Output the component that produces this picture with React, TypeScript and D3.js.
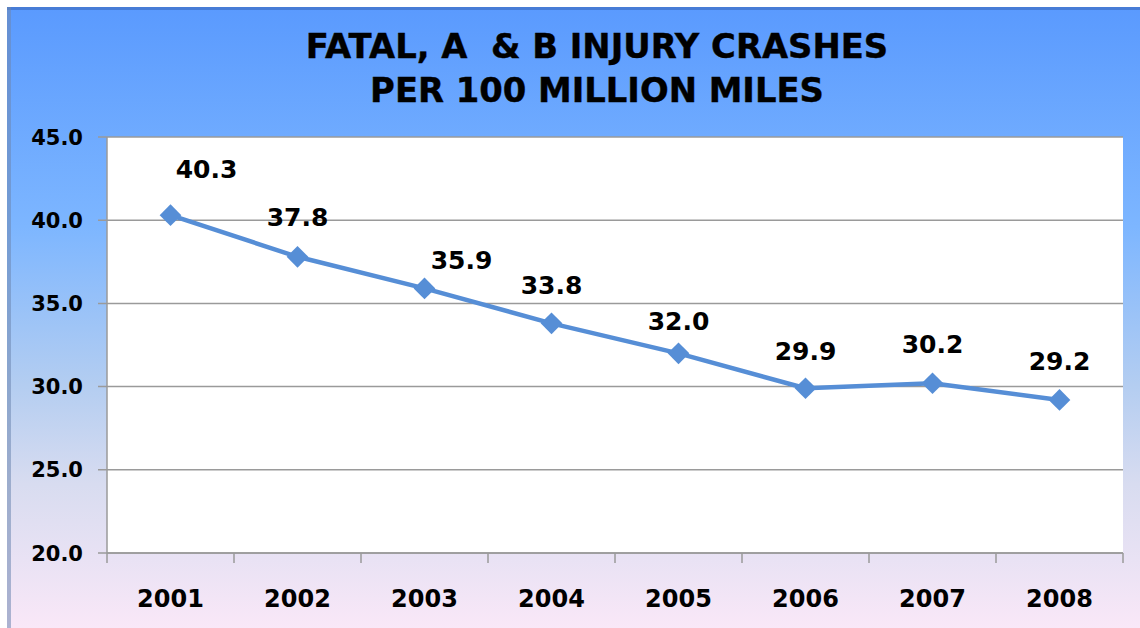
import React from "react";
import * as d3 from "d3";

const years = ["2001", "2002", "2003", "2004", "2005", "2006", "2007", "2008"];
const rates = [40.3, 37.8, 35.9, 33.8, 32.0, 29.9, 30.2, 29.2];
const yTicks = [20, 25, 30, 35, 40, 45];
const titleLines = ["FATAL, A  & B INJURY CRASHES", "PER 100 MILLION MILES"];

// label placement offsets (layout, px)
const labelDx = [36, 0, 37, 0, 0, 0, 0, 0];
const labelDy = [-37, -31, -19, -29, -23, -28, -30, -30];

const W = 1140;
const H = 628;
const M = { left: 107, right: 1123, top: 137, bottom: 553 };
const FONT = "'DejaVu Sans', Verdana, sans-serif";

export default function App() {
  const x = d3.scaleBand<string>().domain(years).range([M.left, M.right]).padding(0);
  const y = d3.scaleLinear().domain([20, 45]).range([M.bottom, M.top]);
  const cx = (d: string) => (x(d) as number) + x.bandwidth() / 2;
  const line = d3
    .line<number>()
    .x((_, i) => cx(years[i]))
    .y((v) => y(v));
  const diamond = d3.symbol().type(d3.symbolDiamond2).size(300)();

  return (
    <svg
      width={W}
      height={H}
      style={{ position: "absolute", left: 0, top: 0, display: "block" }}
    >
      <defs>
        <linearGradient id="bg" x1="0" y1="0" x2="0" y2="1">
          <stop offset="0" stopColor="#5a9afe" />
          <stop offset="0.35" stopColor="#7db6ff" />
          <stop offset="0.6" stopColor="#b3cdf1" />
          <stop offset="0.76" stopColor="#d8dcf0" />
          <stop offset="0.88" stopColor="#e9e2f4" />
          <stop offset="1" stopColor="#fbe8f8" />
        </linearGradient>
      </defs>
      <rect x={0} y={0} width={W} height={H} fill="#ffffff" />
      <rect x={7} y={7} width={W} height={H} fill="url(#bg)" />
      <line x1={7} y1={8.5} x2={W} y2={8.5} stroke="#3f6fc4" strokeOpacity={0.7} strokeWidth={3} />
      <line x1={9} y1={7} x2={9} y2={H} stroke="#6d86b0" strokeOpacity={0.55} strokeWidth={4} />

      {/* title */}
      {titleLines.map((t, i) => (
        <text
          key={i}
          x={597}
          y={58 + i * 44}
          textAnchor="middle"
          fontFamily={FONT}
          fontWeight="bold"
          fontSize={33.8}
          fill="#000"
          stroke="#000"
          strokeWidth={0.4}
          style={{ whiteSpace: "pre" }}
          xmlSpace="preserve"
        >
          {t}
        </text>
      ))}

      {/* plot area */}
      <rect x={M.left} y={M.top} width={M.right - M.left} height={M.bottom - M.top} fill="#ffffff" />

      {/* gridlines and y ticks */}
      {yTicks.map((t) => (
        <g key={t}>
          <line x1={M.left - 9} x2={M.right} y1={y(t)} y2={y(t)} stroke="#9a9a9a" strokeWidth={1.5} />
          <text
            x={83}
            y={y(t)}
            dy="0.36em"
            textAnchor="end"
            fontFamily={FONT}
            fontWeight="bold"
            fontSize={21}
            fill="#000"
          >
            {d3.format(".1f")(t)}
          </text>
        </g>
      ))}

      {/* axes */}
      <line x1={M.left} x2={M.left} y1={M.top} y2={M.bottom} stroke="#9a9a9a" strokeWidth={1.5} />
      <line x1={M.left} x2={M.right} y1={M.bottom} y2={M.bottom} stroke="#9a9a9a" strokeWidth={1.5} />
      {years.map((yr) => (
        <line
          key={"t" + yr}
          x1={x(yr) as number}
          x2={x(yr) as number}
          y1={M.bottom}
          y2={M.bottom + 10}
          stroke="#9a9a9a"
          strokeWidth={1.5}
        />
      ))}
      <line x1={M.right} x2={M.right} y1={M.bottom} y2={M.bottom + 10} stroke="#9a9a9a" strokeWidth={1.5} />

      {years.map((yr) => (
        <text
          key={"l" + yr}
          x={cx(yr)}
          y={607}
          textAnchor="middle"
          fontFamily={FONT}
          fontWeight="bold"
          fontSize={24}
          fill="#000"
        >
          {yr}
        </text>
      ))}

      {/* series */}
      <path d={line(rates) as string} fill="none" stroke="#568ed6" strokeWidth={4.5} strokeLinejoin="round" />
      {rates.map((v, i) => (
        <path
          key={"m" + i}
          d={diamond as string}
          transform={`translate(${cx(years[i])},${y(v)})`}
          fill="#568ed6"
        />
      ))}
      {rates.map((v, i) => (
        <text
          key={"v" + i}
          x={cx(years[i]) + labelDx[i]}
          y={y(v) + labelDy[i]}
          textAnchor="middle"
          fontFamily={FONT}
          fontWeight="bold"
          fontSize={25}
          fill="#000"
        >
          {d3.format(".1f")(v)}
        </text>
      ))}
    </svg>
  );
}
